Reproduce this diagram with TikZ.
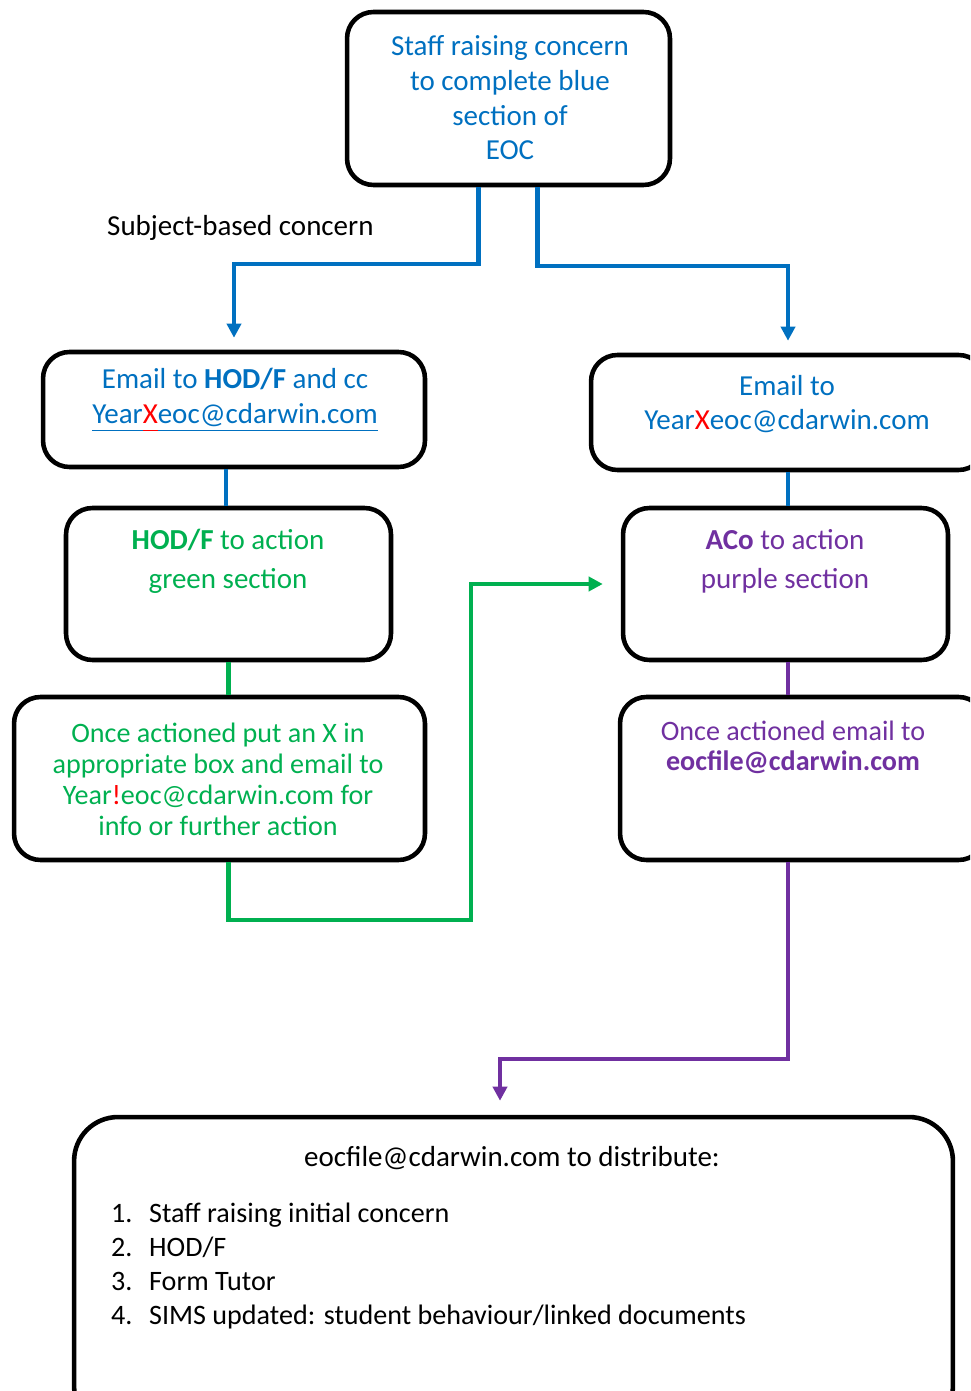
\documentclass[tikz,border=0pt]{standalone}
\usepackage{fontspec}
\setmainfont{Carlito}
\usetikzlibrary{arrows.meta}
\definecolor{eocblue}{HTML}{0070C0}
\definecolor{eocgreen}{HTML}{00B050}
\definecolor{eocpurple}{HTML}{7030A0}
\definecolor{eocred}{HTML}{FF0000}
\newcommand{\eocul}[1]{\underline{\vphantom{@y}#1}}
\newcommand{\eocnum}[1]{\makebox[0.76cm][l]{#1}}
\tikzset{
    box/.style={draw=black, line width=2.6pt, rounded corners=15pt, inner sep=0pt},
    link/.style={line width=2.4pt},
    tip/.style={-{Triangle[length=8pt,width=8pt]}},
    txt/.style={align=center, font=\fontsize{16.5}{19.7}\selectfont},
}

\begin{document}
\begin{tikzpicture}[x=0.02cm, y=-0.02cm]
        \useasboundingbox (0,0) rectangle (970,1391);
        \clip (0,0) rectangle (970,1391);
        % boxes
        \node[box, minimum width=6.46cm, minimum height=3.46cm] (top) at (508.5,98.5) {};
        \node[box, minimum width=7.64cm, minimum height=2.3cm] (mailhod) at (234,409.5) {};
        \node[box, minimum width=7.88cm, minimum height=2.3cm] (mailyear) at (788,412.5) {};
        \node[box, minimum width=6.5cm, minimum height=3.04cm] (hod) at (228.5,584) {};
        \node[box, minimum width=6.5cm, minimum height=3.04cm] (aco) at (785.5,584) {};
        \node[box, minimum width=8.22cm, minimum height=3.26cm] (hoddone) at (219.5,778.5) {};
        \node[box, minimum width=7.3cm, minimum height=3.26cm] (acodone) at (802.5,778.5) {};
        \node[box, rounded corners=25pt, minimum width=17.58cm, minimum height=6.26cm] (distrib) at (513.5,1273.5) {};

        % texts
        \node[txt, text=eocblue] (toptxt) at (510,98) {Staff raising concern\\to complete blue\\section of\\EOC};
        \node[txt, anchor=west] (subject) at (101,228) {Subject-based concern};
        \node[txt, text=eocblue] (mailhodtxt) at (235,400) {Email to \textbf{HOD/F} and cc\\\eocul{Year}\textcolor{eocred}{\eocul{X}}\eocul{eoc@cdarwin.com}};
        \node[txt, text=eocblue] (mailyeartxt) at (787,404) {Email to\\Year\textcolor{eocred}{X}eoc@cdarwin.com};
        \node[txt, text=eocgreen, font=\fontsize{16.5}{22}\selectfont] (hodtxt) at (228,561) {\textbf{HOD/F} to action\\green section};
        \node[txt, text=eocpurple, font=\fontsize{16.5}{22}\selectfont] (acotxt) at (785,561) {\textbf{ACo} to action\\purple section};
        \node[txt, text=eocgreen, font=\fontsize{16}{17.6}\selectfont] (hoddonetxt) at (218,779) {Once actioned put an X in\\appropriate box and email to\\Year\textcolor{eocred}{!}eoc@cdarwin.com for\\info or further action};
        \node[txt, text=eocpurple, font=\fontsize{16}{17}\selectfont] (acodonetxt) at (793,747) {Once actioned email to\\\textbf{eocfile@cdarwin.com}};
        \node[txt] (distribtxt) at (512,1158) {eocfile@cdarwin.com to distribute:};
        \node[txt, anchor=west, align=left, font=\fontsize{16}{19.3}\selectfont] (list) at (105,1266) {%
            \eocnum{1.}Staff raising initial concern\\
            \eocnum{2.}HOD/F\\
            \eocnum{3.}Form Tutor\\
            \eocnum{4.}SIMS updated: student behaviour/linked documents};

        % blue links
        \draw[link, eocblue, tip] ([xshift=-0.6cm]top.south) -- ++(0,77) -| ([yshift=0.24cm]mailhod.north);
        \draw[link, eocblue, tip] ([xshift=0.58cm]top.south) -- ++(0,79) -| ([yshift=0.24cm]mailyear.north);
        \draw[link, eocblue] ([xshift=-0.16cm]mailhod.south) -- ([xshift=-0.16cm]mailhod.south |- hod.north);
        \draw[link, eocblue] (mailyear.south) -- (mailyear.south |- aco.north);
        % green links
        \draw[link, eocgreen] (hod.south) -- (hod.south |- hoddone.north);
        \draw[link, eocgreen, tip] (hoddone.south -| hod.south) -- ++(0,58) -| (471,584) -- ([xshift=-0.36cm]aco.west);
        % purple links
        \draw[link, eocpurple] (aco.south -| mailyear.south) -- (mailyear.south |- acodone.north);
        \draw[link, eocpurple, tip] (acodone.south -| mailyear.south) -- ++(0,197) -| ([xshift=-0.27cm, yshift=0.28cm]distrib.north);
    \end{tikzpicture}
\end{document}
